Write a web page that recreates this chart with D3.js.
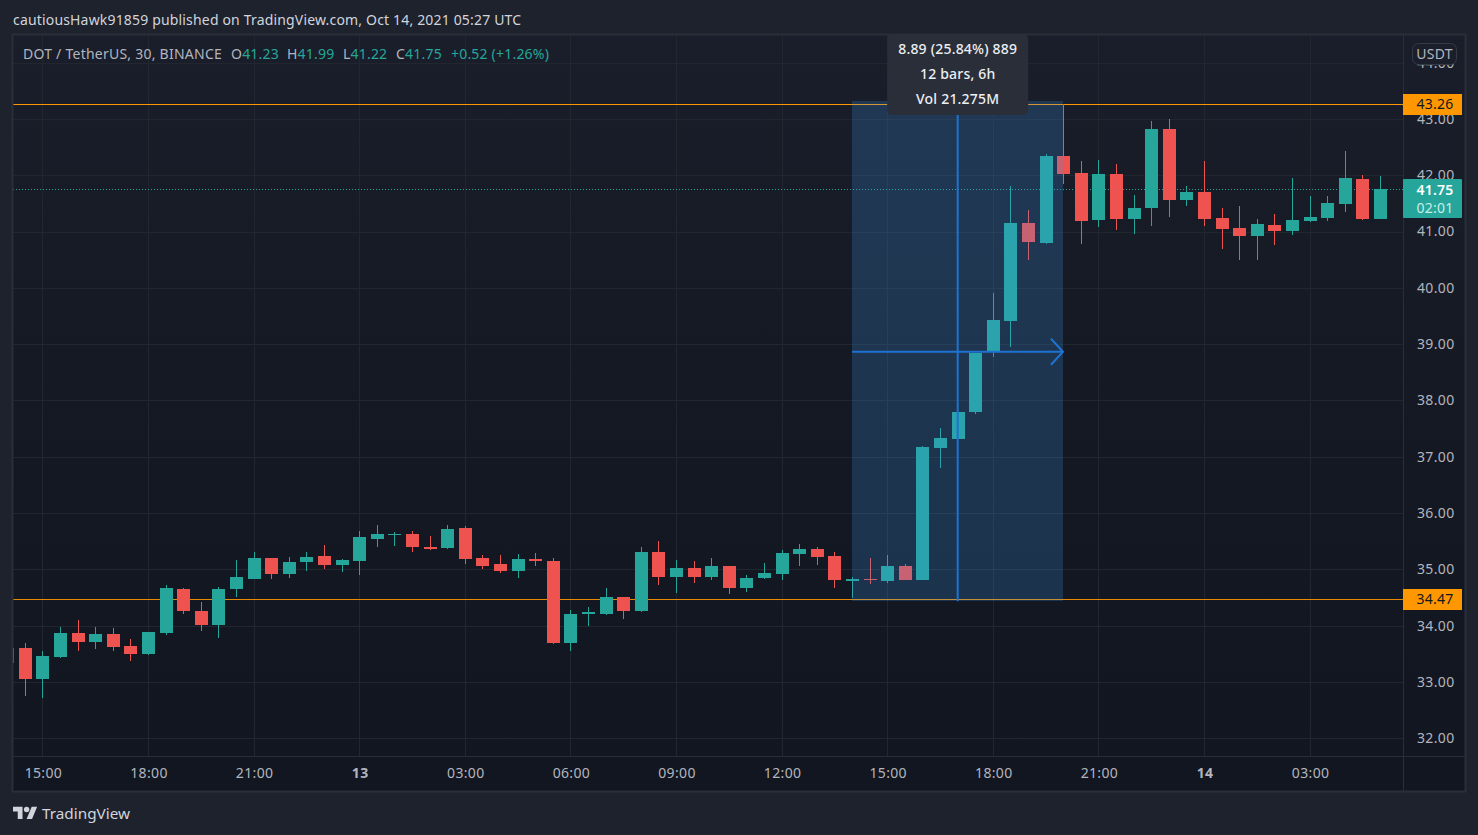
<!DOCTYPE html>
<html><head><meta charset="utf-8">
<script src="https://cdnjs.cloudflare.com/ajax/libs/d3/7.8.5/d3.min.js"></script>
<style>html,body{margin:0;padding:0;background:#1e222d;overflow:hidden}svg{display:block}text{font-family:"Noto Sans",sans-serif;letter-spacing:.2px}</style>
</head><body><div id="c"></div>
<script>
const opens =[33.34,33.60,33.05,33.44,33.87,33.71,33.85,33.64,33.50,33.87,34.65,34.26,34.01,34.65,34.83,35.20,34.92,35.13,35.24,35.08,35.15,35.54,35.61,35.63,35.40,35.38,35.73,35.20,35.10,34.97,35.18,35.15,33.69,34.21,34.21,34.51,34.26,35.31,34.86,35.02,34.86,35.06,34.67,34.85,34.92,35.27,35.36,35.24,34.79,34.83,34.79,35.06,34.81,37.16,37.32,37.80,38.88,39.41,41.15,40.80,42.34,42.04,41.21,42.02,41.22,41.42,42.82,41.56,41.70,41.24,41.06,40.92,41.12,41.01,41.19,41.24,41.49,41.93,41.23];
const highs =[33.60,33.69,33.55,33.97,34.10,33.97,33.96,33.76,33.89,34.72,34.67,34.42,34.69,35.17,35.31,35.20,35.22,35.31,35.43,35.18,35.68,35.79,35.66,35.68,35.59,35.79,35.77,35.25,35.25,35.27,35.29,35.20,34.28,34.33,34.67,34.51,35.40,35.50,35.17,35.15,35.20,35.06,34.90,35.11,35.34,35.45,35.40,35.31,34.86,35.20,35.25,35.10,37.19,37.51,37.80,38.84,39.91,41.81,41.38,42.38,43.26,42.25,42.27,42.20,41.65,42.96,43.00,41.81,42.25,41.42,41.45,41.22,41.31,41.95,41.63,41.63,42.43,42.01,41.99];
const lows  =[33.34,32.75,32.71,33.43,33.55,33.59,33.55,33.37,33.48,33.83,34.21,33.90,33.78,34.51,34.83,34.83,34.85,34.97,35.01,34.95,34.90,35.40,35.41,35.31,35.34,35.36,35.10,35.01,34.94,34.85,35.06,33.67,33.55,33.99,34.19,34.12,34.24,34.72,34.58,34.76,34.81,34.56,34.60,34.83,34.81,35.06,35.08,34.67,34.49,34.74,34.76,34.81,34.81,36.80,37.32,37.76,38.77,38.95,40.49,40.78,41.84,40.78,41.08,41.03,40.96,41.10,41.26,41.45,41.10,40.69,40.49,40.49,40.76,40.94,41.17,41.19,41.35,41.21,41.22];
const closes=[33.60,33.05,33.46,33.87,33.71,33.85,33.62,33.50,33.89,34.67,34.26,34.01,34.65,34.86,35.20,34.92,35.13,35.22,35.08,35.17,35.57,35.63,35.63,35.40,35.36,35.72,35.18,35.06,34.97,35.18,35.15,33.69,34.21,34.24,34.51,34.26,35.31,34.86,35.02,34.86,35.06,34.67,34.85,34.94,35.29,35.36,35.22,34.81,34.83,34.81,35.06,34.81,37.17,37.33,37.80,38.84,39.43,41.15,40.81,42.34,42.02,41.19,42.02,41.22,41.42,42.82,41.56,41.70,41.22,41.05,40.92,41.13,41.01,41.21,41.26,41.51,41.95,41.22,41.75];
const priceTicks=[32,33,34,35,36,37,38,39,40,41,42,43,44];
const timeTickBars=[2,8,14,20,26,32,38,44,50,56,62,68,74];
const timeTickLabels=["15:00","18:00","21:00","13","03:00","06:00","09:00","12:00","15:00","18:00","21:00","14","03:00"];
const boldLabels=["13","14"];
const upperLevel=43.26, lowerLevel=34.47, lastPrice=41.75;
const rangeStartBar=48, rangeEndBar=60;
const titleText="cautiousHawk91859 published on TradingView.com, Oct 14, 2021 05:27 UTC";
const legendHead="DOT / TetherUS, 30, BINANCE";
const legendKeys=["O","H","L","C"];
const legendVals=["41.23","41.99","41.22","41.75"];
const legendChange="+0.52 (+1.26%)";
const tipLines=["8.89 (25.84%) 889","12 bars, 6h","Vol 21.275M"];
const countdown="02:01", currency="USDT", brand="TradingView";

const W=1478,H=835,L=13,T=35,PR=1403,OR=1465,TB=756,OB=791;
const GREEN="#26a69a",RED="#ef5350",ORANGE="#ff9800",BLUE="#1e73d2",TXT="#b2b5be";
const x=d3.scaleLinear().domain([0,78]).range([7.7,1380.5]);
const y=d3.scaleLinear().domain([32,44]).range([738.2,62.6]);
const svg=d3.select("#c").append("svg").attr("width",W).attr("height",H);
const defs=svg.append("defs");
const g=defs.append("linearGradient").attr("id","bg").attr("x1",0).attr("y1",0).attr("x2",0).attr("y2",1);
g.append("stop").attr("offset",0).attr("stop-color","#1a1e2a");
g.append("stop").attr("offset",0.55).attr("stop-color","#141822");
g.append("stop").attr("offset",1).attr("stop-color","#121620");
defs.append("clipPath").attr("id","pane").append("rect").attr("x",L).attr("y",T).attr("width",PR-L).attr("height",TB-T);

svg.append("rect").attr("width",W).attr("height",H).attr("fill","#1e222d");
svg.append("rect").attr("x",L).attr("y",T).attr("width",OR-L).attr("height",OB-T).attr("fill","url(#bg)");

const pane=svg.append("g").attr("clip-path","url(#pane)");
// grid
pane.append("g").selectAll("line").data(priceTicks).join("line")
 .attr("x1",L).attr("x2",PR).attr("y1",d=>Math.round(y(d))+.5).attr("y2",d=>Math.round(y(d))+.5)
 .attr("stroke","#22262f").attr("shape-rendering","crispEdges");
pane.append("g").selectAll("line").data(timeTickBars).join("line")
 .attr("y1",T).attr("y2",TB).attr("x1",d=>Math.floor(x(d))+.5).attr("x2",d=>Math.floor(x(d))+.5)
 .attr("stroke","#22262f").attr("shape-rendering","crispEdges");
// level lines
const lvl=pane.append("g");
lvl.append("line").attr("x1",L).attr("x2",PR).attr("y1",Math.round(y(upperLevel))+.5).attr("y2",Math.round(y(upperLevel))+.5).attr("stroke",ORANGE).attr("shape-rendering","crispEdges");
lvl.append("line").attr("x1",L).attr("x2",PR).attr("y1",Math.round(y(lowerLevel))+.5).attr("y2",Math.round(y(lowerLevel))+.5).attr("stroke",ORANGE).attr("stroke-opacity",.9).attr("shape-rendering","crispEdges");
lvl.append("line").attr("x1",L).attr("x2",PR).attr("y1",Math.round(y(lastPrice))+.5).attr("y2",Math.round(y(lastPrice))+.5).attr("stroke",GREEN).attr("stroke-dasharray","1 2");
// candles
const idx=d3.range(opens.length);
const col=i=>closes[i]>=opens[i]?GREEN:RED;
const bars=pane.append("g");
bars.selectAll("line").data(idx).join("line")
 .attr("x1",i=>Math.floor(x(i))+.5).attr("x2",i=>Math.floor(x(i))+.5)
 .attr("y1",i=>y(highs[i])).attr("y2",i=>y(lows[i])).attr("stroke",col).attr("shape-rendering","crispEdges");
bars.selectAll("rect").data(idx).join("rect")
 .attr("x",i=>Math.floor(x(i))-6).attr("width",13)
 .attr("y",i=>Math.round(y(Math.max(opens[i],closes[i]))))
 .attr("height",i=>Math.max(1,Math.round(y(Math.min(opens[i],closes[i])))-Math.round(y(Math.max(opens[i],closes[i])))))
 .attr("fill",col).attr("shape-rendering","crispEdges");
// date-price range
const rx0=Math.floor(x(rangeStartBar)),rx1=Math.floor(x(rangeEndBar)),mx=x((rangeStartBar+rangeEndBar)/2)-.4,my=y((upperLevel+lowerLevel)/2);
pane.append("rect").attr("x",rx0).attr("width",rx1-rx0).attr("y",y(upperLevel)-3).attr("height",y(lowerLevel)-y(upperLevel)+5).attr("fill","rgba(66,155,240,.22)").attr("shape-rendering","crispEdges");
pane.append("line").attr("x1",rx0).attr("x2",rx1).attr("y1",my).attr("y2",my).attr("stroke",BLUE).attr("stroke-width",2);
pane.append("line").attr("x1",mx).attr("x2",mx).attr("y1",y(upperLevel)).attr("y2",y(lowerLevel)+2).attr("stroke",BLUE).attr("stroke-width",2);
pane.append("path").attr("d",d3.line()([[rx1-12,my-13],[rx1,my],[rx1-12,my+13]])).attr("fill","none").attr("stroke",BLUE).attr("stroke-width",2);
// tooltip
const tipW=141,tipTop=T-1;
svg.append("rect").attr("x",mx-70.5).attr("y",tipTop).attr("width",tipW).attr("height",81).attr("rx",5).attr("fill","#2a2e39");
svg.append("g").selectAll("text").data(tipLines).join("text")
 .attr("x",mx).attr("y",(d,i)=>tipTop+20+i*25).attr("text-anchor","middle").attr("font-size",14).attr("font-weight",500).attr("fill","#eceef2").text(d=>d);
// frame
svg.append("rect").attr("x",L-.5).attr("y",T-.5).attr("width",OR-L+1).attr("height",OB-T+1).attr("fill","none").attr("stroke","#2a2e39").attr("stroke-width",2);
svg.append("line").attr("x1",PR+.5).attr("x2",PR+.5).attr("y1",T).attr("y2",OB).attr("stroke","#2a2e39").attr("shape-rendering","crispEdges");
svg.append("line").attr("x1",L).attr("x2",OR).attr("y1",TB+.5).attr("y2",TB+.5).attr("stroke","#2a2e39").attr("shape-rendering","crispEdges");
// axes
const yAxis=svg.append("g").attr("transform",`translate(${PR},0)`).call(d3.axisRight(y).tickValues(priceTicks).tickFormat(d3.format(".2f")).tickSize(0).tickPadding(14));
yAxis.select(".domain").remove();
yAxis.selectAll("text").attr("font-size",14).attr("fill",TXT).attr("font-family",'"Noto Sans",sans-serif').style("letter-spacing",".35px");
const timeLab=d3.scaleOrdinal(timeTickBars,timeTickLabels);
const xAxis=svg.append("g").attr("transform",`translate(0,${TB})`).call(d3.axisBottom(x).tickValues(timeTickBars).tickFormat(d=>timeLab(d)).tickSize(0).tickPadding(12));
xAxis.select(".domain").remove();
xAxis.selectAll("text").attr("font-size",14).attr("fill",TXT).attr("font-family",'"Noto Sans",sans-serif').style("letter-spacing",".35px")
 .attr("font-weight",function(){return boldLabels.includes(this.textContent)?700:400});
// price labels
function tag(p,h,fill){svg.append("rect").attr("x",PR).attr("y",Math.round(y(p))-h/2+.5).attr("width",59).attr("height",h).attr("rx",1).attr("fill",fill).attr("shape-rendering","crispEdges");}
tag(upperLevel,21,ORANGE);tag(lowerLevel,21,ORANGE);
[upperLevel,lowerLevel].forEach(p=>svg.append("text").attr("x",1435).attr("y",y(p)+5).attr("text-anchor","middle").attr("font-size",14).attr("fill","#131722").text(p.toFixed(2)));
svg.append("rect").attr("x",PR).attr("y",179).attr("width",59).attr("height",39).attr("rx",1).attr("fill",GREEN);
svg.append("text").attr("x",1435).attr("y",y(lastPrice)+6).attr("text-anchor","middle").attr("font-size",14).attr("font-weight",600).attr("fill","#fff").text(lastPrice.toFixed(2));
svg.append("text").attr("x",1435).attr("y",213).attr("text-anchor","middle").attr("font-size",14).attr("fill","#c9ece8").text(countdown);
// currency button
svg.append("rect").attr("x",1412.5).attr("y",43.5).attr("width",44).attr("height",21).attr("rx",6).attr("fill","#1b1f2b").attr("stroke","#363a45");
svg.append("text").attr("x",1434.5).attr("y",59).attr("text-anchor","middle").attr("font-size",14).attr("fill",TXT).text(currency);
// title + legend
svg.append("text").attr("x",13).attr("y",25).attr("font-size",14).attr("fill","#d1d4dc").style("letter-spacing",".17px").text(titleText);
const lg=svg.append("text").attr("y",59).attr("font-size",14).attr("fill",TXT);
lg.append("tspan").attr("x",23).style("letter-spacing",".24px").text(legendHead);
const legendAt=[231,287,343,396];
legendKeys.forEach((k,i)=>{lg.append("tspan").attr("x",legendAt[i]).text(k);lg.append("tspan").attr("fill",GREEN).text(legendVals[i]);});
lg.append("tspan").attr("x",451).attr("fill",GREEN).style("letter-spacing",".2px").text(legendChange);
// brand
svg.append("g").attr("transform","translate(13,804) scale(.68)").attr("fill","#d1d4dc").call(s=>{
 s.append("path").attr("d","M14 22H7V11H0V4h14v18zM28 22h-8l7.5-18h8L28 22z");
 s.append("circle").attr("cx",20).attr("cy",8).attr("r",4);
});
svg.append("text").attr("x",42).attr("y",819).attr("font-size",15.3).attr("fill","#d1d4dc").style("letter-spacing","0").text(brand);
</script></body></html>
